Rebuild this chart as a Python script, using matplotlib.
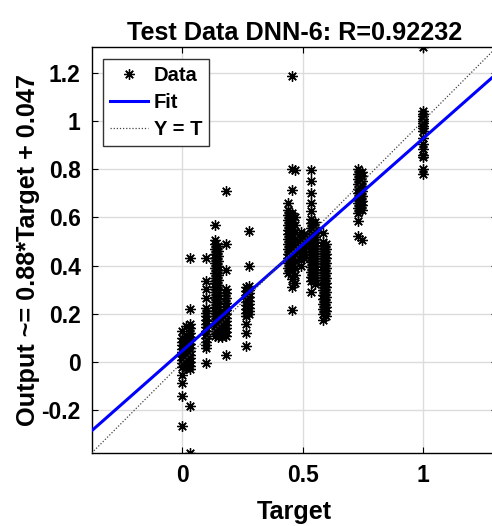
import matplotlib
matplotlib.use("Agg")
import matplotlib.pyplot as plt
import numpy as np

# ---- data ----
title_text = "Test Data DNN-6: R=0.92232"
fit_slope = 0.88
fit_intercept = 0.047

x_ticks = [0, 0.5, 1]
y_ticks = [-0.2, 0, 0.2, 0.4, 0.6, 0.8, 1.0, 1.2]
y_tick_labels = ["-0.2", "0", "0.2", "0.4", "0.6", "0.8", "1", "1.2"]

y_t000 = [0.13, 0.10, 0.085, 0.07, 0.055, 0.04, 0.025, 0.01, -0.005, -0.02, -0.055, -0.085, -0.14, -0.265]
y_t015 = [0.15, 0.11, 0.095, 0.08, 0.065, 0.05, 0.035, 0.02, 0.005, -0.01, -0.025]
y_t030 = [0.43, 0.22, 0.16, 0.14, 0.12, 0.105, 0.09, 0.075, 0.06, 0.045, 0.03, 0.015, 0.0, -0.015, -0.03, -0.18, -0.375]
y_t100 = [0.43, 0.335, 0.305, 0.265, 0.225, 0.205, 0.19, 0.175, 0.16, 0.145, 0.13, 0.115, 0.10, 0.085, 0.07, 0.058, -0.005]
y_t135 = [0.57, 0.505, 0.49, 0.47, 0.45, 0.43, 0.41, 0.39, 0.37, 0.35, 0.33, 0.31, 0.29, 0.27, 0.25, 0.23, 0.21, 0.19, 0.17, 0.15, 0.13, 0.11]
y_t150 = [0.48, 0.46, 0.44, 0.42, 0.40, 0.38, 0.36, 0.34, 0.32, 0.30, 0.28, 0.26, 0.24, 0.22, 0.20, 0.18, 0.16, 0.14, 0.12, 0.105]
y_t165 = [0.20, 0.18, 0.16, 0.14, 0.12, 0.105]
y_t180 = [0.71, 0.49, 0.38, 0.305, 0.285, 0.265, 0.245, 0.23, 0.215, 0.20, 0.185, 0.17, 0.155, 0.14, 0.125, 0.11, 0.03]
y_t265 = [0.31, 0.295, 0.28, 0.265, 0.25, 0.235, 0.22, 0.205, 0.19, 0.16, 0.12, 0.065]
y_t278 = [0.545, 0.40, 0.315, 0.30, 0.285, 0.27, 0.255, 0.24, 0.225, 0.21, 0.20]
y_t440 = [0.66, 0.63, 0.61, 0.59, 0.57, 0.55, 0.53, 0.51, 0.49, 0.47, 0.45, 0.43, 0.41, 0.39, 0.37]
y_t455 = [1.185, 0.80, 0.715, 0.62, 0.60, 0.58, 0.56, 0.54, 0.52, 0.50, 0.48, 0.46, 0.44, 0.42, 0.40, 0.38, 0.345, 0.31, 0.215]
y_t470 = [0.795, 0.60, 0.57, 0.54, 0.51, 0.48, 0.45, 0.42, 0.39, 0.36, 0.33]
y_t495 = [0.54, 0.52, 0.50, 0.48, 0.46, 0.44, 0.425, 0.40]
y_t505 = [0.53, 0.51, 0.49, 0.47, 0.45, 0.43]
y_t535 = [0.795, 0.75, 0.70, 0.66, 0.625, 0.595, 0.575, 0.555, 0.535, 0.515, 0.495, 0.475, 0.455, 0.435, 0.415, 0.395, 0.375, 0.355, 0.335, 0.29]
y_t550 = [0.58, 0.56, 0.54, 0.52, 0.50, 0.48, 0.46, 0.44, 0.42, 0.40, 0.38, 0.36, 0.34, 0.325]
y_t585 = [0.535, 0.50, 0.48, 0.46, 0.44, 0.42, 0.40, 0.38, 0.36, 0.34, 0.32, 0.30, 0.28, 0.26, 0.24, 0.22, 0.20, 0.173]
y_t595 = [0.49, 0.47, 0.45, 0.43, 0.41, 0.39, 0.37, 0.35, 0.33, 0.31, 0.29, 0.27, 0.25, 0.23, 0.21, 0.19]
y_t730 = [0.80, 0.78, 0.76, 0.74, 0.72, 0.70, 0.68, 0.66, 0.64, 0.62, 0.585, 0.525]
y_t745 = [0.79, 0.77, 0.75, 0.73, 0.71, 0.69, 0.67, 0.65, 0.63, 0.505]
y_t1000 = [1.307, 1.04, 1.03, 1.02, 1.01, 1.0, 0.99, 0.98, 0.97, 0.96, 0.93, 0.905, 0.885, 0.86, 0.85, 0.80, 0.78]

columns = [
    (0.0, y_t000), (0.015, y_t015), (0.03, y_t030), (0.10, y_t100),
    (0.135, y_t135), (0.15, y_t150), (0.165, y_t165), (0.18, y_t180),
    (0.265, y_t265), (0.278, y_t278), (0.44, y_t440), (0.455, y_t455),
    (0.47, y_t470), (0.495, y_t495), (0.505, y_t505), (0.535, y_t535),
    (0.55, y_t550), (0.585, y_t585), (0.595, y_t595), (0.73, y_t730),
    (0.745, y_t745), (1.0, y_t1000),
]

targets = np.concatenate([[t] * len(v) for t, v in columns])
outputs = np.concatenate([v for t, v in columns])

# ---- figure ----
W, H = 492, 526
fig = plt.figure(figsize=(W / 100, H / 100), dpi=100)
ax = fig.add_axes([91.7 / W, 1 - 453 / H, (496.8 - 91.7) / W, (453 - 47) / H])

plt.rcParams['font.family'] = ['Liberation Sans', 'DejaVu Sans']
FAM = ['Liberation Sans', 'DejaVu Sans']
fs = 16.5
lo, hi = -0.377, 1.307
ax.set_xlim(lo, hi)
ax.set_ylim(lo, hi)

ax.grid(True, color='#dcdcdc', linewidth=1.0, zorder=0)
ax.set_axisbelow(True)

star = (8, 2, 0)
ax.plot(targets, outputs, linestyle='none', marker=star, markersize=7.5,
        markeredgewidth=0.95, color='black', label='Data', zorder=2)
xx = np.array([lo, hi])
ax.plot(xx, fit_slope * xx + fit_intercept, color='#0000ff', linewidth=2.2,
        label='Fit', zorder=3)
ax.plot(xx, xx, color='#444444', linestyle=(0, (1, 1.5)), linewidth=0.9,
        label='Y = T', zorder=4)

ax.set_xticks(x_ticks)
ax.set_xticklabels(["0", "0.5", "1"])
ax.set_yticks(y_ticks)
ax.set_yticklabels(y_tick_labels)
ax.tick_params(direction='in', length=4, width=0.8, top=True, right=True,
               labelsize=fs, pad=8)
for lab in ax.get_xticklabels() + ax.get_yticklabels():
    lab.set_fontweight('bold')
    lab.set_family(FAM)

for s in ['top', 'bottom', 'left']:
    ax.spines[s].set_linewidth(1.0)
    ax.spines[s].set_color('black')
ax.spines['right'].set_visible(False)

ax.set_title(title_text, fontsize=18.2, fontweight='bold', pad=5, family=FAM)
ax.set_xlabel("Target", fontsize=18.2, fontweight='bold', labelpad=9, family=FAM)
ax.set_ylabel("Output ~= 0.88*Target + 0.047", fontsize=18.2, fontweight='bold',
              labelpad=1, family=FAM)

leg = ax.legend(loc='upper left', fancybox=False, edgecolor='#333333',
                framealpha=1, handlelength=1.85, handletextpad=0.3,
                borderpad=0.35, labelspacing=0.38, borderaxespad=0,
                prop={'family': FAM, 'weight': 'bold', 'size': 14.5})
leg.get_frame().set_linewidth(1.0)
leg.set_bbox_to_anchor(((103.3 - 91.7) / (496.8 - 91.7), (453 - 59.3) / (453 - 47)),
                       transform=ax.transAxes)

fig.savefig("out.png", dpi=100)
